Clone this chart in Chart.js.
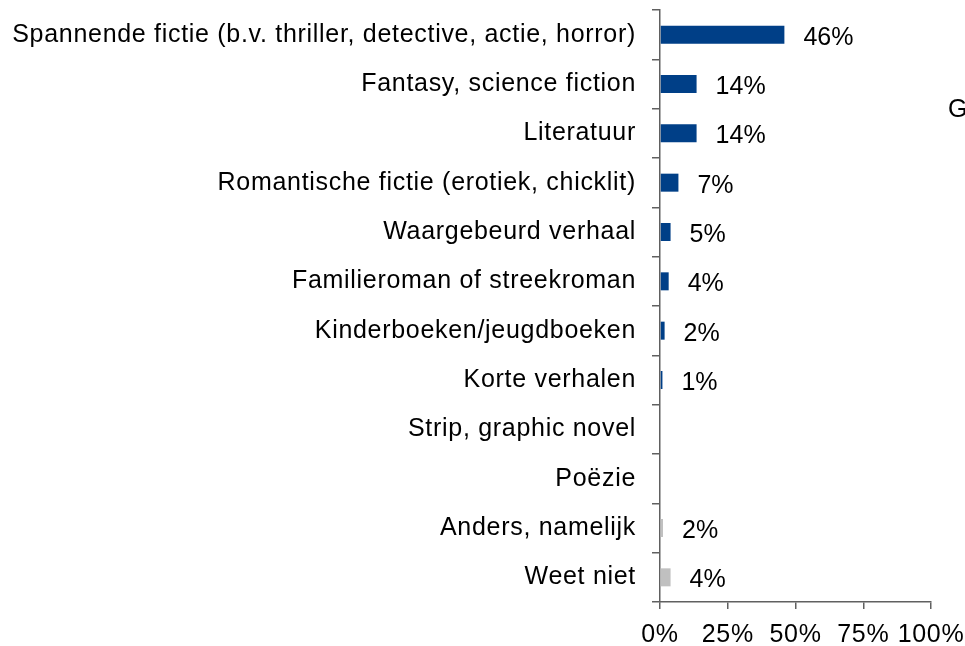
<!DOCTYPE html>
<html>
<head>
<meta charset="utf-8">
<script src="https://cdn.jsdelivr.net/npm/chart.js@4"></script>
<style>
  html, body { margin: 0; padding: 0; background: #fff; }
  #wrap { position: relative; width: 965px; height: 646px; }
</style>
</head>
<body>
<div id="wrap"><canvas id="genreChart" width="965" height="646"></canvas></div>
<script>
var categories = [
    'Spannende fictie (b.v. thriller, detective, actie, horror)',
    'Fantasy, science fiction',
    'Literatuur',
    'Romantische fictie (erotiek, chicklit)',
    'Waargebeurd verhaal',
    'Familieroman of streekroman',
    'Kinderboeken/jeugdboeken',
    'Korte verhalen',
    'Strip, graphic novel',
    'Poëzie',
    'Anders, namelijk',
    'Weet niet'
];
var values = [45.9, 13.5, 13.5, 6.8, 3.9, 3.2, 1.7, 0.9, 0, 0, 1.1, 3.9];
var valueLabels = ['46%', '14%', '14%', '7%', '5%', '4%', '2%', '1%', '', '', '2%', '4%'];
var greyCategories = ['Anders, namelijk', 'Weet niet'];
var xTicks = [0, 25, 50, 75, 100];
var legendText = 'G';

var FONT = "'Liberation Sans', Arial, sans-serif";
var AXIS = '#606060';

var valueLabelPlugin = {
    id: 'valueLabels',
    beforeDraw: function (chart) {
        // the original text is set a bit wider than plain Arial
        chart.ctx.letterSpacing = '0.7px';
    },
    beforeDatasetsDraw: function (chart) {
        chart.ctx.letterSpacing = '0px';
    },
    afterDatasetsDraw: function (chart) {
        var ctx = chart.ctx;
        var meta = chart.getDatasetMeta(0);
        ctx.save();
        ctx.font = '25px ' + FONT;
        ctx.fillStyle = '#000';
        ctx.textAlign = 'left';
        ctx.textBaseline = 'middle';
        meta.data.forEach(function (bar, i) {
            if (!valueLabels[i]) return;
            ctx.fillText(valueLabels[i], bar.x + 19, bar.y + 3);
        });
        // cut-off legend at the right edge
        ctx.fillText(legendText, 948, 110);
        ctx.restore();
    }
};

var ctx = document.getElementById('genreChart').getContext('2d');
var genreChart = new Chart(ctx, {
    type: 'bar',
    data: {
        labels: categories,
        datasets: [{
            data: values,
            backgroundColor: function (c) {
                return greyCategories.indexOf(categories[c.dataIndex]) >= 0 ? '#c0c0c0' : '#003f87';
            },
            borderWidth: 0,
            barPercentage: 0.365,
            categoryPercentage: 1
        }]
    },
    options: {
        indexAxis: 'y',
        responsive: false,
        animation: false,
        events: [],
        layout: {
            padding: { top: 10, right: 34, bottom: 0, left: 0 }
        },
        plugins: {
            legend: { display: false },
            tooltip: { enabled: false }
        },
        scales: {
            x: {
                min: 0,
                max: 100,
                afterBuildTicks: function (scale) {
                    scale.ticks = xTicks.map(function (v) { return { value: v }; });
                },
                afterFit: function (scale) {
                    scale.height = 44;
                    scale.paddingLeft = 0;
                    scale.paddingRight = 0;
                },
                ticks: {
                    callback: function (v) { return v + '%'; },
                    color: '#000',
                    font: { family: FONT, size: 25 },
                    padding: 11,
                    maxRotation: 0
                },
                grid: {
                    drawOnChartArea: false,
                    drawTicks: true,
                    tickLength: 7,
                    color: AXIS,
                    lineWidth: 1.5
                },
                border: { color: AXIS, width: 1.5 }
            },
            y: {
                afterFit: function (scale) {
                    scale.width = 660;
                    scale.paddingTop = 0;
                    scale.paddingBottom = 0;
                },
                ticks: {
                    color: '#000',
                    font: { family: FONT, size: 25 },
                    padding: 16,
                    autoSkip: false
                },
                grid: {
                    offset: true,
                    drawOnChartArea: false,
                    drawTicks: true,
                    tickLength: 8,
                    color: AXIS,
                    lineWidth: 1.5
                },
                border: { color: AXIS, width: 1.5 }
            }
        }
    },
    plugins: [valueLabelPlugin]
});
</script>
</body>
</html>
